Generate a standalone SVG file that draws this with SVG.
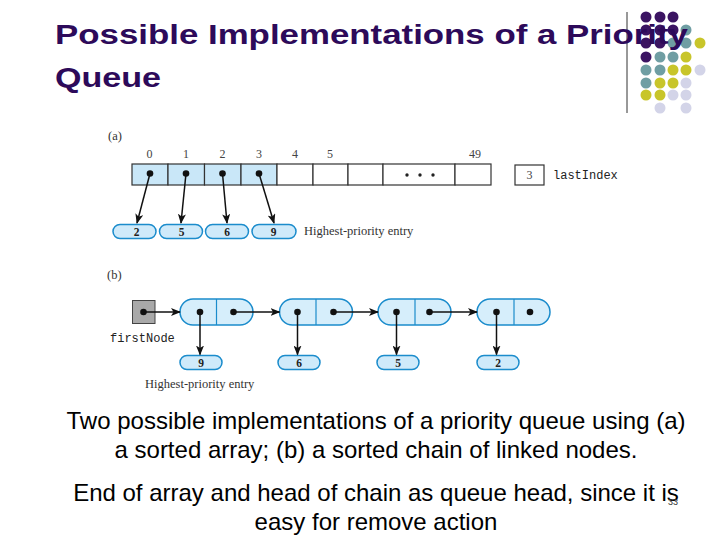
<svg xmlns="http://www.w3.org/2000/svg" width="720" height="540" viewBox="0 0 720 540">
<style>
.title{font-family:"Liberation Sans",Arial,sans-serif;font-weight:bold;font-size:28px;fill:#2d0a5a}
.cap{font-family:"Liberation Sans",Arial,sans-serif;font-size:24px;fill:#000;text-anchor:middle}
.ser{font-family:"Liberation Serif","Times New Roman",serif;font-size:12.5px;fill:#333}
.idx{font-family:"Liberation Serif","Times New Roman",serif;font-size:12px;fill:#444;text-anchor:middle}
.val{font-family:"Liberation Serif","Times New Roman",serif;font-size:11.5px;font-weight:bold;fill:#222;text-anchor:middle}
.mono{font-family:"Liberation Mono","Courier New",monospace;font-size:12px;fill:#222}
.cell{fill:#fff;stroke:#333;stroke-width:1.2}
.cellf{fill:#c9e7f8;stroke:#333;stroke-width:1.2}
.oval{fill:#cfeafa;stroke:#1b8ccc;stroke-width:1.5}
.node{fill:#d6eefb;stroke:#1b8ccc;stroke-width:1.5}
.div{stroke:#1b8ccc;stroke-width:1.2}
.dot{fill:#111}
.ln{stroke:#111;stroke-width:1.5;fill:none}
.P{fill:#3b1462}.T{fill:#6f9ea3}.Y{fill:#c8c52a}.L{fill:#d3d4e8}
</style>
<defs>
<marker id="ah" markerWidth="10" markerHeight="8" refX="9" refY="4" orient="auto" markerUnits="userSpaceOnUse">
<path d="M0,0 L10,4 L0,8 L2.5,4 Z" fill="#111"/>
</marker>
</defs>
<rect width="720" height="540" fill="#fff"/>

<g id="decor">
<line x1="627" y1="12" x2="627" y2="113" stroke="#333" stroke-width="1"/>
<circle class="P" cx="646" cy="17" r="5.5"/><circle class="P" cx="660" cy="17" r="5.5"/><circle class="P" cx="673" cy="17" r="5.5"/>
<circle class="P" cx="646" cy="30" r="5.5"/><circle class="P" cx="660" cy="30" r="5.5"/><circle class="P" cx="673" cy="30" r="5.5"/><circle class="T" cx="686" cy="30" r="5.5"/>
<circle class="P" cx="646" cy="43" r="5.5"/><circle class="P" cx="660" cy="43" r="5.5"/><circle class="T" cx="673" cy="43" r="5.5"/><circle class="T" cx="686" cy="43" r="5.5"/><circle class="Y" cx="700" cy="43" r="5.5"/>
<circle class="P" cx="646" cy="57" r="5.5"/><circle class="T" cx="660" cy="57" r="5.5"/><circle class="T" cx="673" cy="57" r="5.5"/><circle class="Y" cx="686" cy="57" r="5.5"/>
<circle class="T" cx="646" cy="70" r="5.5"/><circle class="T" cx="660" cy="70" r="5.5"/><circle class="Y" cx="673" cy="70" r="5.5"/><circle class="Y" cx="686" cy="70" r="5.5"/><circle class="L" cx="700" cy="70" r="5.5"/>
<circle class="T" cx="646" cy="83" r="5.5"/><circle class="Y" cx="660" cy="83" r="5.5"/><circle class="Y" cx="673" cy="83" r="5.5"/><circle class="L" cx="686" cy="83" r="5.5"/>
<circle class="Y" cx="646" cy="95" r="5.5"/><circle class="Y" cx="660" cy="95" r="5.5"/><circle class="L" cx="673" cy="95" r="5.5"/><circle class="L" cx="686" cy="95" r="5.5"/>
<circle class="L" cx="660" cy="108" r="5.5"/><circle class="L" cx="686" cy="108" r="5.5"/>
</g>

<g id="title">
<text class="title" x="55" y="44" textLength="633" lengthAdjust="spacingAndGlyphs">Possible Implementations of a Priority</text>
<text class="title" x="55" y="87" textLength="106" lengthAdjust="spacingAndGlyphs">Queue</text>
</g>

<g id="array-a">
<text class="ser" x="108" y="140">(a)</text>
<text class="idx" x="149.5" y="158">0</text><text class="idx" x="186" y="158">1</text><text class="idx" x="222.5" y="158">2</text><text class="idx" x="259" y="158">3</text><text class="idx" x="295" y="158">4</text><text class="idx" x="330" y="158">5</text><text class="idx" x="475" y="158">49</text>
<rect class="cellf" x="132" y="164" width="36" height="21"/>
<rect class="cellf" x="168" y="164" width="36.5" height="21"/>
<rect class="cellf" x="204.5" y="164" width="36.5" height="21"/>
<rect class="cellf" x="241" y="164" width="36" height="21"/>
<rect class="cell" x="277" y="164" width="36" height="21"/>
<rect class="cell" x="313" y="164" width="35" height="21"/>
<rect class="cell" x="348" y="164" width="35" height="21"/>
<rect class="cell" x="383" y="164" width="72" height="21"/>
<rect class="cell" x="455" y="164" width="36" height="21"/>
<circle cx="407" cy="175" r="1.7" fill="#222"/><circle cx="420" cy="175" r="1.7" fill="#222"/><circle cx="433" cy="175" r="1.7" fill="#222"/>
<circle class="dot" cx="150" cy="173.5" r="3.3"/><circle class="dot" cx="186" cy="173.5" r="3.3"/><circle class="dot" cx="222.5" cy="173.5" r="3.3"/><circle class="dot" cx="259" cy="173.5" r="3.3"/>
</g>

<g id="lastIndex">
<rect class="cell" x="515" y="165" width="29" height="20"/>
<text class="idx" x="529.5" y="179">3</text>
<text class="mono" x="553" y="179">lastIndex</text>
</g>

<g id="entries-a">
<rect class="oval" x="113" y="224.5" width="43" height="14" rx="7"/><text class="val" x="136.5" y="235.5">2</text>
<rect class="oval" x="159.5" y="224.5" width="43" height="14" rx="7"/><text class="val" x="181.5" y="235.5">5</text>
<rect class="oval" x="205.5" y="224.5" width="43" height="14" rx="7"/><text class="val" x="227" y="235.5">6</text>
<rect class="oval" x="252" y="224.5" width="44" height="14" rx="7"/><text class="val" x="273.5" y="235.5">9</text>
<text class="ser" x="304" y="235">Highest-priority entry</text>
</g>

<g id="chain-b">
<text class="ser" x="107" y="279">(b)</text>
<g id="firstNode">
<rect x="132.5" y="300.5" width="22.5" height="23" fill="#a9a9a9" stroke="#444" stroke-width="1"/>
<circle class="dot" cx="143.5" cy="312" r="3.3"/>
<text class="mono" x="110" y="342">firstNode</text>
</g>
<g id="node1"><rect class="node" x="180" y="299" width="73" height="26" rx="13"/><line class="div" x1="216.5" y1="299" x2="216.5" y2="325"/><circle class="dot" cx="200" cy="312" r="3.3"/><circle class="dot" cx="233.5" cy="312" r="3.3"/></g>
<g id="node2"><rect class="node" x="279.5" y="299" width="73" height="26" rx="13"/><line class="div" x1="316" y1="299" x2="316" y2="325"/><circle class="dot" cx="297.5" cy="312" r="3.3"/><circle class="dot" cx="333.5" cy="312" r="3.3"/></g>
<g id="node3"><rect class="node" x="378" y="299" width="73" height="26" rx="13"/><line class="div" x1="415" y1="299" x2="415" y2="325"/><circle class="dot" cx="396.5" cy="312" r="3.3"/><circle class="dot" cx="429.5" cy="312" r="3.3"/></g>
<g id="node4"><rect class="node" x="477" y="299" width="73" height="26" rx="13"/><line class="div" x1="514" y1="299" x2="514" y2="325"/><circle class="dot" cx="496.5" cy="312" r="3.3"/><circle class="dot" cx="530" cy="312" r="3.3"/></g>
<rect class="oval" x="180" y="355.5" width="42" height="14" rx="7"/><text class="val" x="201" y="366.5">9</text>
<rect class="oval" x="278" y="355.5" width="42" height="14" rx="7"/><text class="val" x="299" y="366.5">6</text>
<rect class="oval" x="377" y="355.5" width="42" height="14" rx="7"/><text class="val" x="398" y="366.5">5</text>
<rect class="oval" x="477" y="355.5" width="42" height="14" rx="7"/><text class="val" x="498" y="366.5">2</text>
<text class="ser" x="145" y="388">Highest-priority entry</text>
</g>

<g id="connectors">
<line class="ln" x1="150" y1="173.5" x2="137" y2="223" marker-end="url(#ah)"/>
<line class="ln" x1="186" y1="173.5" x2="181" y2="223" marker-end="url(#ah)"/>
<line class="ln" x1="222.5" y1="173.5" x2="227" y2="223" marker-end="url(#ah)"/>
<line class="ln" x1="259" y1="173.5" x2="274" y2="223" marker-end="url(#ah)"/>
<line class="ln" x1="143.5" y1="312" x2="180" y2="312" marker-end="url(#ah)"/>
<line class="ln" x1="233.5" y1="312" x2="279.5" y2="312" marker-end="url(#ah)"/>
<line class="ln" x1="333.5" y1="312" x2="378" y2="312" marker-end="url(#ah)"/>
<line class="ln" x1="429.5" y1="312" x2="477" y2="312" marker-end="url(#ah)"/>
<line class="ln" x1="200" y1="312" x2="200" y2="354.5" marker-end="url(#ah)"/>
<line class="ln" x1="297.5" y1="312" x2="297.5" y2="354.5" marker-end="url(#ah)"/>
<line class="ln" x1="396.5" y1="312" x2="396.5" y2="354.5" marker-end="url(#ah)"/>
<line class="ln" x1="496.5" y1="312" x2="496.5" y2="354.5" marker-end="url(#ah)"/>
</g>

<g id="caption">
<text class="cap" x="376" y="429">Two possible implementations of a priority queue using (a)</text>
<text class="cap" x="376" y="458">a sorted array; (b) a sorted chain of linked nodes.</text>
<text class="cap" x="376" y="501">End of array and head of chain as queue head, since it is</text>
<text class="cap" x="376" y="530">easy for remove action</text>
<text x="668" y="505" font-family="Liberation Sans,Arial,sans-serif" font-size="9" fill="#333">33</text>
</g>
</svg>
